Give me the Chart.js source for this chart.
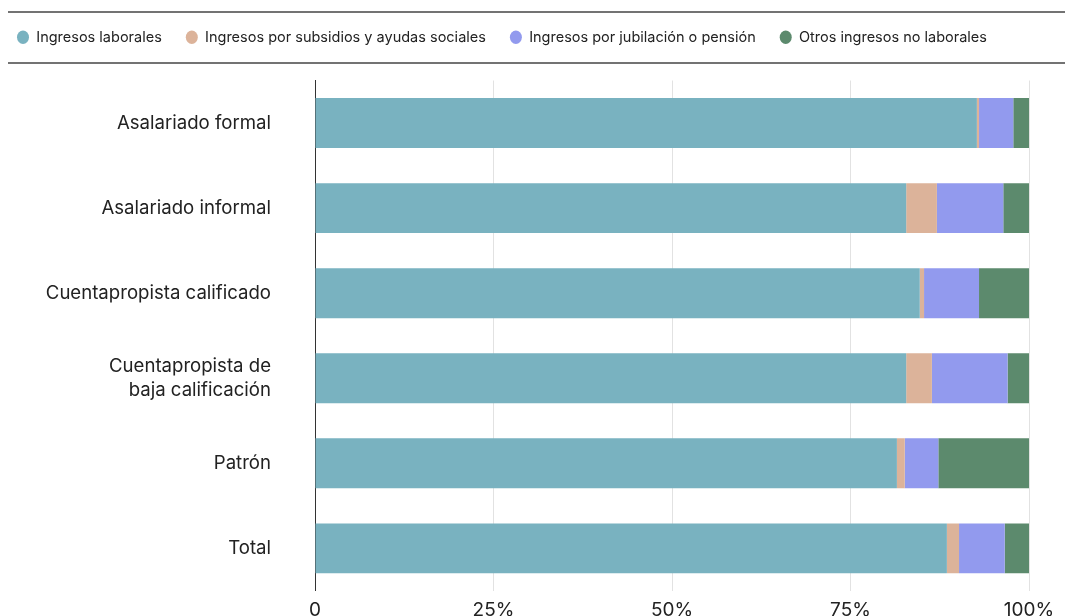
<!DOCTYPE html>
<html>
<head>
<meta charset="utf-8">
<script src="https://cdn.jsdelivr.net/npm/chart.js@4.4.1/dist/chart.umd.min.js"></script>
<style>
  html, body { margin: 0; padding: 0; background: #fff; overflow: hidden; }
  #wrap { width: 1065px; height: 639px; }
</style>
</head>
<body>
<div id="wrap"><canvas id="incomeChart" width="1065" height="639"></canvas></div>
<script>
// Categories and series (percent of income)
const categories = [
    'Asalariado formal',
    'Asalariado informal',
    'Cuentapropista calificado',
    ['Cuentapropista de', 'baja calificación'],
    'Patrón',
    'Total'
];
const seriesNames = [
    'Ingresos laborales',
    'Ingresos por subsidios y ayudas sociales',
    'Ingresos por jubilación o pensión',
    'Otros ingresos no laborales'
];
const laborales   = [92.7, 82.8, 84.7, 82.8, 81.5, 88.5];
const subsidios   = [0.3, 4.3, 0.6, 3.6, 1.1, 1.7];
const jubilacion  = [4.8, 9.3, 7.7, 10.6, 4.7, 6.4];
const otros       = [2.2, 3.6, 7.0, 3.0, 12.7, 3.4];
const xTicks = [0, 25, 50, 75, 100];

const colors = ['#79b2c0', '#dcb39a', '#929aee', '#5c8a6d'];
const FONT = 'Inter, "Noto Sans", sans-serif';

// Lines above and below the legend
const legendLines = {
    id: 'legendLines',
    beforeInit(chart) {
        const fit = chart.legend.fit;
        chart.legend.fit = function () {
            fit.bind(chart.legend)();
            this.height += 26;
        };
    },
    afterDraw(chart) {
        const ctx = chart.ctx;
        ctx.save();
        ctx.strokeStyle = '#444';
        ctx.lineWidth = 1.5;
        [12, 63].forEach(y => {
            ctx.beginPath();
            ctx.moveTo(8, y);
            ctx.lineTo(chart.width, y);
            ctx.stroke();
        });
        ctx.restore();
    }
};

const ctx = document.getElementById('incomeChart').getContext('2d');
new Chart(ctx, {
    type: 'bar',
    data: {
        labels: categories,
        datasets: [laborales, subsidios, jubilacion, otros].map((d, i) => ({
            label: seriesNames[i],
            data: d,
            backgroundColor: colors[i],
            borderWidth: 0,
            barPercentage: 0.587,
            categoryPercentage: 1
        }))
    },
    options: {
        indexAxis: 'y',
        responsive: false,
        animation: false,
        layout: { padding: { top: 6, left: -7, right: 36, bottom: 4 } },
        plugins: {
            legend: {
                position: 'top',
                align: 'start',
                labels: {
                    usePointStyle: true,
                    pointStyle: 'circle',
                    pointStyleWidth: 12,
                    boxHeight: 9.5,
                    padding: 24,
                    color: '#222',
                    font: { family: FONT, size: 14.5 }
                }
            },
            tooltip: { enabled: false }
        },
        scales: {
            x: {
                stacked: true,
                min: 0,
                max: 100,
                afterBuildTicks(scale) { scale.ticks = xTicks.map(v => ({ value: v })); },
                ticks: {
                    padding: 8,
                    color: '#222',
                    font: { family: FONT, size: 19 },
                    callback: v => v === 0 ? '0' : v + '%'
                },
                grid: {
                    drawTicks: false,
                    color: c => c.tick && c.tick.value === 0 ? 'rgba(0,0,0,0)' : '#e2e2e2'
                },
                border: { display: false }
            },
            y: {
                stacked: true,
                afterFit(scale) { scale.width = 322; },
                ticks: {
                    padding: 36,
                    color: '#222',
                    font: { family: FONT, size: 18.6, lineHeight: 1.3 }
                },
                grid: { display: false },
                border: { display: true, color: '#333', width: 1 }
            }
        }
    },
    plugins: [legendLines]
});
</script>
</body>
</html>
